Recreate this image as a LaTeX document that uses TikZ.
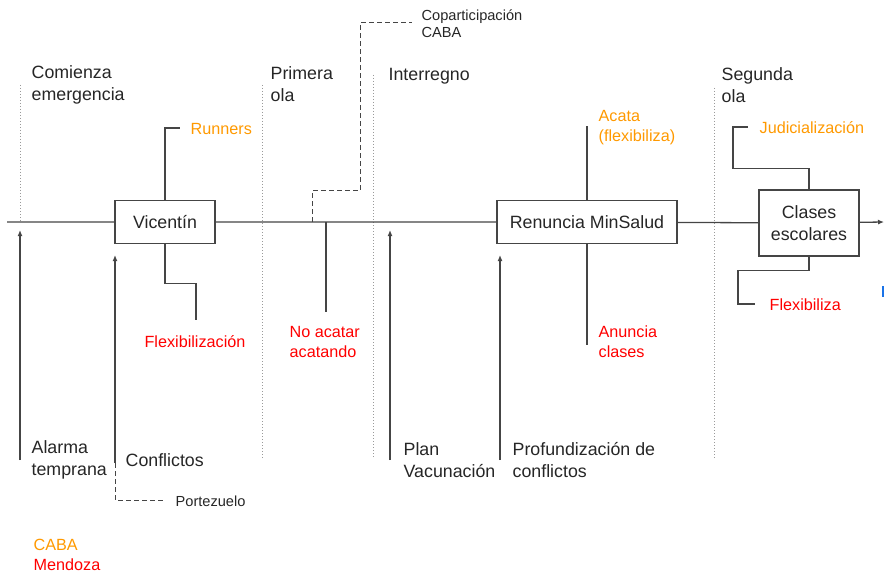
\documentclass[tikz,border=0pt]{standalone}
\usepackage{fontspec}
\setmainfont{Liberation Sans}
\usetikzlibrary{arrows.meta,positioning}
\definecolor{naranja}{HTML}{FF9900}
\definecolor{rojo}{HTML}{FF0000}
\definecolor{lineaGris}{HTML}{454545}
\definecolor{puntoGris}{HTML}{9A9A9A}
\definecolor{textoGris}{HTML}{262626}
\definecolor{azulCorte}{HTML}{1A73E8}
\newcommand{\grande}{\fontsize{17.8}{22}\selectfont}
\newcommand{\medio}{\fontsize{16.2}{20}\selectfont}
\newcommand{\chico}{\fontsize{14.6}{17}\selectfont}

\begin{document}
\begin{tikzpicture}[x=1pt,y=-1pt,line width=1.3pt,
  caja/.style={draw=lineaGris,inner sep=0pt,minimum width=100pt,minimum height=43pt,
    align=center,text=textoGris,font=\grande},
  etiq/.style={anchor=west,inner sep=0pt,align=left,text=textoGris,font=\grande},
  efecto/.style={anchor=west,inner sep=0pt,align=left,font=\medio},
  nota/.style={anchor=west,inner sep=0pt,align=left,text=textoGris,font=\chico},
  rama/.style={draw=lineaGris},
  punteado/.style={draw=puntoGris,line width=1pt,dash pattern=on 1pt off 2pt},
  discont/.style={draw=lineaGris,line width=1pt,dash pattern=on 5pt off 3pt},
  flecha/.style={draw=lineaGris,-{Latex[length=6pt,width=5pt]}}]
\useasboundingbox (0,0) rectangle (884,575);

% etapas
\draw[punteado] (20,85)--(20,222);
\draw[punteado] (262,85)--(262,458);
\draw[punteado] (373,75)--(373,458);
\draw[punteado] (714,88)--(714,458);
\node[etiq] (comienza) at (31,85) {Comienza\\emergencia};
\node[etiq] (primera) at (270,84) {Primera\\ola};
\node[etiq] (interregno) at (388,76) {Interregno};
\node[etiq] (segunda) at (721,85) {Segunda\\ola};

% linea de tiempo
\coordinate (ini) at (7,222);
\coordinate (fin) at (884,222);
\node[caja] (vic) at (165,222) {Vicentín};
\node[caja,minimum width=180pt] (ren) at (587,222) {Renuncia MinSalud};
\node[caja,minimum height=66pt] (cla) at (809,223) {Clases\\escolares};
\draw[rama] (ini)--(vic)--(ren)--(cla);
\draw[flecha] (cla)--(fin);

% Vicentin
\node[efecto,text=naranja] (runners) at (190,129) {Runners};
\node[efecto,anchor=center,text=rojo] (flex) at (195,342) {Flexibilización};
\coordinate (runFin) at (180,128);
\coordinate (flexFin) at (196,320);
\draw[rama] (vic.north)|-(runFin);
\draw[rama] (vic.south)--++(0,39)-|(flexFin);

% primera ola
\coordinate (copPie) at (312,222);
\coordinate (copFin) at (412,23);
\node[nota] (copart) at (421,24) {Coparticipación\\CABA};
\draw[discont] (copPie)|-(360,191)|-(copFin);
\coordinate (acaPie) at (326,222);
\coordinate (acaFin) at (326,312);
\node[efecto,text=rojo] (noacatar) at (289,342) {No acatar\\acatando};
\draw[rama] (acaPie)--(acaFin);

% Renuncia MinSalud
\node[efecto,text=naranja] (acata) at (598,128) {Acata\\(flexibiliza)};
\node[efecto,text=rojo] (anuncia) at (598,342) {Anuncia\\clases};
\draw[rama] (ren.north)--++(0,-74);
\draw[rama] (ren.south)--++(0,101);

% Clases escolares
\node[efecto,text=naranja] (judic) at (759,128) {Judicialización};
\node[efecto,text=rojo] (flexi) at (769,305) {Flexibiliza};
\coordinate (judFin) at (748,127);
\coordinate (flxFin) at (755,304);
\draw[rama] (cla.north)--++(0,-21)-|(733,127)--(judFin);
\draw[rama] (cla.south)--++(0,14)-|(738,304)--(flxFin);
\fill[azulCorte] (882,286) rectangle (884,297);

% causas
\node[etiq] (alarma) at (31,460) {Alarma\\temprana};
\node[etiq] (conflictos) at (125,460) {Conflictos};
\node[nota] (portez) at (175,501) {Portezuelo};
\node[etiq] (plan) at (403,460) {Plan\\Vacunación};
\node[etiq] (profund) at (512,460) {Profundización de\\conflictos};
\coordinate (alaPie) at (20,460);
\coordinate (conPie) at (115,463);
\coordinate (porFin) at (165,500);
\coordinate (plaPie) at (390,460);
\coordinate (proPie) at (500,460);
\draw[flecha] (alaPie)--(20,230);
\draw[flecha] (conPie)--(115,255);
\draw[discont] (conPie)|-(porFin);
\draw[flecha] (plaPie)--(390,230);
\draw[flecha] (proPie)--(500,255);

% referencias
\node[efecto] (refs) at (33,555) {\color{naranja}CABA\\\color{rojo}Mendoza};
\end{tikzpicture}
\end{document}
